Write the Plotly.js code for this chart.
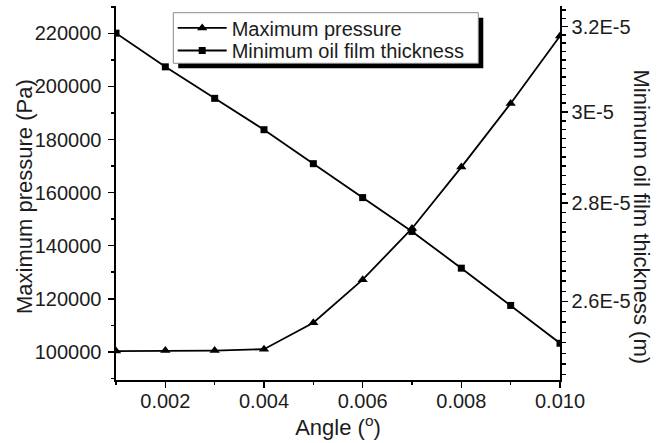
<!DOCTYPE html>
<html>
<head>
<meta charset="utf-8">
<script src="https://cdn.plot.ly/plotly-3.0.1.min.js"></script>
<style>
  html, body { margin: 0; padding: 0; background: #fff; }
  #chart { width: 672px; height: 443px; }
</style>
</head>
<body>
<div id="chart"></div>
<script>
// Tilt angle of the pad (degrees)
const angle = [0.001, 0.002, 0.003, 0.004, 0.005, 0.006, 0.007, 0.008, 0.009, 0.010];
// Maximum film pressure (Pa)
const maxPressure = [100300, 100500, 100500, 101000, 111000, 127200, 146500, 169600, 193600, 219000];
// Minimum oil film thickness (m)
const minFilmThickness = [3.184e-5, 3.104e-5, 3.031e-5, 2.960e-5, 2.885e-5, 2.812e-5, 2.741e-5, 2.666e-5, 2.592e-5, 2.519e-5];

// Axis tick labels
const xTickVals = [0.002, 0.004, 0.006, 0.008, 0.010];
const xTickText = ['0.002', '0.004', '0.006', '0.008', '0.010'];
const xMinorVals = [0.001, 0.003, 0.005, 0.007, 0.009];
const pTickVals = [100000, 120000, 140000, 160000, 180000, 200000, 220000];
const hTickVals = [2.6e-5, 2.8e-5, 3.0e-5, 3.2e-5];
const hTickText = ['2.6E-5', '2.8E-5', '3E-5', '3.2E-5'];

// minor ticks on the thickness axis every 0.02E-5
const hMinorVals = [];
for (let k = 246; k <= 324; k += 2) {
  if (k % 20 !== 0) hMinorVals.push(k * 1e-7);
}

const FONT = 'Liberation Sans, Arial, Helvetica, sans-serif';
const INK = '#1c1c1c';

const traces = [
  {
    x: angle, y: maxPressure,
    name: 'Maximum pressure',
    type: 'scatter', mode: 'lines+markers',
    line: { color: '#000', width: 1.8 },
    marker: { symbol: 'triangle-up', size: 9, color: '#000' },
    xaxis: 'x', yaxis: 'y', legend: 'legend'
  },
  {
    x: angle, y: minFilmThickness,
    name: 'Minimum oil film thickness',
    type: 'scatter', mode: 'lines+markers',
    line: { color: '#000', width: 1.8 },
    marker: { symbol: 'square', size: 7, color: '#000' },
    xaxis: 'x', yaxis: 'y2', legend: 'legend2'
  }
];

const axisLine = { showline: true, linecolor: '#000', linewidth: 1.6, showgrid: false, zeroline: false };

// one legend per row, sitting inside a shared framed box
const legendRow = (yc) => ({
  x: 0.1277, y: yc, xanchor: 'left', yanchor: 'middle',
  bgcolor: 'rgba(0,0,0,0)', borderwidth: 0, itemwidth: 49,
  font: { family: FONT, size: 20, color: INK }
});

const layout = {
  width: 672, height: 443,
  margin: { l: 116, r: 112, t: 6, b: 63 },
  paper_bgcolor: '#fff', plot_bgcolor: '#fff',
  font: { family: FONT, color: INK, size: 20 },
  showlegend: true,
  legend: legendRow(0.9414),
  legend2: legendRow(0.881),
  xaxis: Object.assign({}, axisLine, {
    range: [0.001, 0.010],
    tickmode: 'array', tickvals: xTickVals, ticktext: xTickText,
    ticks: 'outside', ticklen: 6, tickwidth: 1.6, tickcolor: '#000',
    minor: { tickmode: 'array', tickvals: xMinorVals, ticks: 'outside', ticklen: 3, tickwidth: 1.6, tickcolor: '#000' },
    tickfont: { family: FONT, size: 20, color: INK },
    ticklabelstandoff: -4,
    title: { text: 'Angle (<sup>o</sup>)', font: { family: FONT, size: 22, color: INK }, standoff: 0 }
  }),
  // top frame with inward ticks
  xaxis2: Object.assign({}, axisLine, {
    overlaying: 'x', side: 'top', anchor: 'y',
    range: [0.001, 0.010],
    tickmode: 'array', tickvals: xTickVals, showticklabels: false,
    ticks: 'inside', ticklen: 6, tickwidth: 1.6, tickcolor: '#000',
    minor: { tickmode: 'array', tickvals: xMinorVals, ticks: 'inside', ticklen: 3, tickwidth: 1.6, tickcolor: '#000' }
  }),
  yaxis: Object.assign({}, axisLine, {
    range: [89400, 230300],
    tickmode: 'array', tickvals: pTickVals, tickformat: 'd',
    ticks: 'outside', ticklen: 6, tickwidth: 1.6, tickcolor: '#000',
    minor: { dtick: 10000, tick0: 0, ticks: 'outside', ticklen: 3, tickwidth: 1.6, tickcolor: '#000' },
    tickfont: { family: FONT, size: 20, color: INK },
    ticklabelstandoff: 3
  }),
  yaxis2: Object.assign({}, axisLine, {
    overlaying: 'y', side: 'right', anchor: 'x',
    type: 'log',
    range: [Math.log10(2.45e-5), Math.log10(3.25e-5)],
    tickmode: 'array', tickvals: hTickVals, ticktext: hTickText,
    ticks: 'outside', ticklen: 6, tickwidth: 1.6, tickcolor: '#000',
    minor: { tickmode: 'array', tickvals: hMinorVals, ticks: 'outside', ticklen: 4, tickwidth: 1.4, tickcolor: '#000' },
    tickfont: { family: FONT, size: 20, color: INK }
  }),
  shapes: [
    // legend drop shadow
    { type: 'rect', xref: 'paper', yref: 'paper', layer: 'above',
      x0: 0.1401, x1: 0.8272, y0: 0.8334, y1: 0.9687,
      fillcolor: '#000', line: { width: 0 } },
    // legend frame
    { type: 'rect', xref: 'paper', yref: 'paper', layer: 'above',
      x0: 0.1291, x1: 0.8160, y0: 0.8468, y1: 0.9821,
      fillcolor: '#fff', line: { color: '#8a8a8a', width: 1 } }
  ],
  annotations: [
    { text: 'Maximum pressure (Pa)', xref: 'paper', yref: 'paper',
      x: -0.205, y: 0.492, xanchor: 'center', yanchor: 'middle',
      textangle: -90, showarrow: false,
      font: { family: FONT, size: 22, color: INK } },
    { text: 'Minimum oil film thickness (m)', xref: 'paper', yref: 'paper',
      x: 1.1847, y: 0.4372, xanchor: 'center', yanchor: 'middle',
      textangle: 90, showarrow: false,
      font: { family: FONT, size: 22, color: INK } }
  ]
};

Plotly.newPlot('chart', traces, layout, { staticPlot: true, displayModeBar: false });
</script>
</body>
</html>
